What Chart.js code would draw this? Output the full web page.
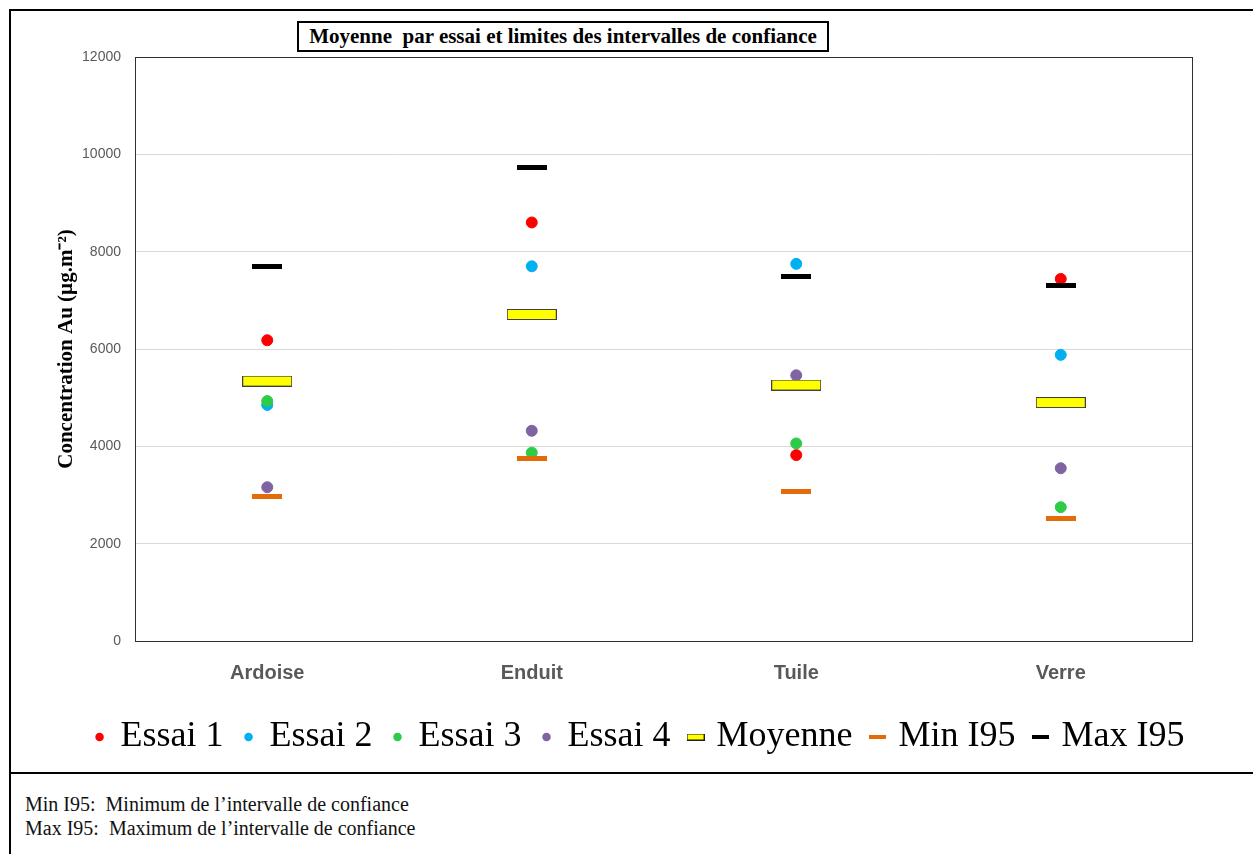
<!DOCTYPE html>
<html>
<head>
<meta charset="UTF-8">
<title>Moyenne par essai et limites des intervalles de confiance</title>
<script src="https://cdn.jsdelivr.net/npm/chart.js@4.4.0/dist/chart.umd.min.js"></script>
<style>
  body { margin: 0; background: #fff; overflow: hidden; }
  #frame { position: absolute; left: 9px; top: 9px; width: 1400px; height: 761px; border: 2px solid #000; }
  #leftline { position: absolute; left: 9px; top: 772px; height: 100px; border-left: 2px solid #000; }
  #wrap { position: absolute; left: 0; top: 0; width: 1253px; height: 772px; }
  #title { position: absolute; left: 297px; top: 21px; width: 528px; height: 27px; border: 2px solid #000;
           font: bold 21px "Liberation Serif", serif; text-align: center; line-height: 27px; white-space: pre; background: #fff; }
  #notes { position: absolute; left: 25px; top: 792px; font: 20px "Liberation Serif", serif; line-height: 24px; white-space: pre; color: #111; }
</style>
</head>
<body>
<div id="frame"></div>
<div id="leftline"></div>
<div id="wrap"><canvas id="myChart" width="1253" height="772"></canvas></div>
<div id="title">Moyenne  par essai et limites des intervalles de confiance</div>
<div id="notes">Min I95:  Minimum de l’intervalle de confiance
Max I95:  Maximum de l’intervalle de confiance</div>

<script>
  // data
  const categories = ['Ardoise', 'Enduit', 'Tuile', 'Verre'];
  const essai1  = [6180, 8600, 3820, 7440];
  const essai2  = [4850, 7700, 7750, 5880];
  const essai3  = [4930, 3870, 4060, 2750];
  const essai4  = [3160, 4320, 5460, 3550];
  const moyenne = [5340, 6710, 5260, 4900];
  const minI95  = [2960, 3740, 3070, 2520];
  const maxI95  = [7700, 9720, 7500, 7310];
  const yMin = 0, yMax = 12000, yStep = 2000;

  function bar(w, h, fill, stroke) {
    const c = document.createElement('canvas');
    c.width = w; c.height = h;
    const g = c.getContext('2d');
    g.fillStyle = fill;
    g.fillRect(0, 0, w, h);
    if (stroke) {
      g.strokeStyle = stroke;
      g.lineWidth = 1;
      g.strokeRect(0.5, 0.5, w - 1, h - 1);
    }
    return c;
  }

  const series = [
    { label: 'Essai 1', data: essai1, color: '#FF0000' },
    { label: 'Essai 2', data: essai2, color: '#00B0F0' },
    { label: 'Essai 3', data: essai3, color: '#2DCB48' },
    { label: 'Essai 4', data: essai4, color: '#8064A2' },
    { label: 'Moyenne', data: moyenne, color: '#FFFF00', style: bar(50, 11, '#FFFF00', '#404040'), legend: bar(18, 7, '#FFFF00', '#202020') },
    { label: 'Min I95', data: minI95, color: '#E36C09', style: bar(30, 5, '#E36C09'), legend: bar(17, 4, '#E36C09') },
    { label: 'Max I95', data: maxI95, color: '#000000', style: bar(30, 5, '#000000'), legend: bar(17, 4, '#000000') }
  ];

  const datasets = series.map((s, i) => ({
    label: s.label,
    data: s.data,
    showLine: false,
    order: series.length - i,
    pointStyle: s.style || 'circle',
    pointRadius: s.style ? 10 : 5.5,
    pointBorderWidth: 1,
    pointBackgroundColor: s.color,
    pointBorderColor: s.color,
    backgroundColor: s.color,
    borderColor: s.color
  }));

  const plotBorder = {
    id: 'plotBorder',
    beforeDatasetsDraw(chart) {
      const a = chart.chartArea, ctx = chart.ctx;
      ctx.save();
      ctx.strokeStyle = '#303030';
      ctx.lineWidth = 1;
      ctx.strokeRect(a.left + 0.5, a.top + 0.5, a.right - a.left - 1, a.bottom - a.top);
      ctx.restore();
    }
  };

  // the legend sits a bit right of and below where chart.js puts it
  const shiftLegend = {
    id: 'shiftLegend',
    afterLayout(chart) {
      chart.legend.left += 34;
      chart.legend.right += 34;
      chart.legend.top += 3;
      chart.legend.bottom += 3;
    }
  };

  const ctx = document.getElementById('myChart').getContext('2d');
  const chart = new Chart(ctx, {
    type: 'line',
    data: { labels: categories, datasets: datasets },
    plugins: [plotBorder, shiftLegend],
    options: {
      responsive: false,
      animation: false,
      events: [],
      layout: { padding: { left: 20, right: 60, top: 57, bottom: 10 } },
      plugins: {
        tooltip: { enabled: false },
        legend: {
          position: 'bottom',
          labels: {
            usePointStyle: true,
            boxWidth: 6,
            boxHeight: 6,
            padding: 22,
            color: '#000',
            font: { family: 'Liberation Serif', size: 36 },
            generateLabels() {
              return series.map((s, i) => ({
                text: s.label,
                datasetIndex: i,
                pointStyle: s.legend || 'circle',
                fillStyle: s.color,
                strokeStyle: s.color,
                lineWidth: 0,
                hidden: false
              }));
            }
          }
        }
      },
      scales: {
        x: {
          offset: true,
          grid: { display: false, drawTicks: false },
          border: { display: false },
          ticks: { padding: 20, color: '#595959', font: { family: 'Liberation Sans', size: 20, weight: 'bold' } },
          afterFit(scale) { scale.height = 53; }
        },
        y: {
          min: yMin,
          max: yMax,
          grid: { color: '#D9D9D9', drawTicks: false },
          border: { display: false },
          ticks: {
            stepSize: yStep,
            padding: 14,
            color: '#595959',
            font: { family: 'Liberation Sans', size: 14 },
            callback: (v) => String(v)
          },
          title: {
            display: true,
            text: 'Concentration Au (µg.m⁻²)',
            color: '#000',
            padding: { top: 34, bottom: 0 },
            font: { family: 'Liberation Serif', size: 21, weight: 'bold' }
          },
          afterFit(scale) { scale.width = 115; }
        }
      }
    }
  });
</script>
</body>
</html>
